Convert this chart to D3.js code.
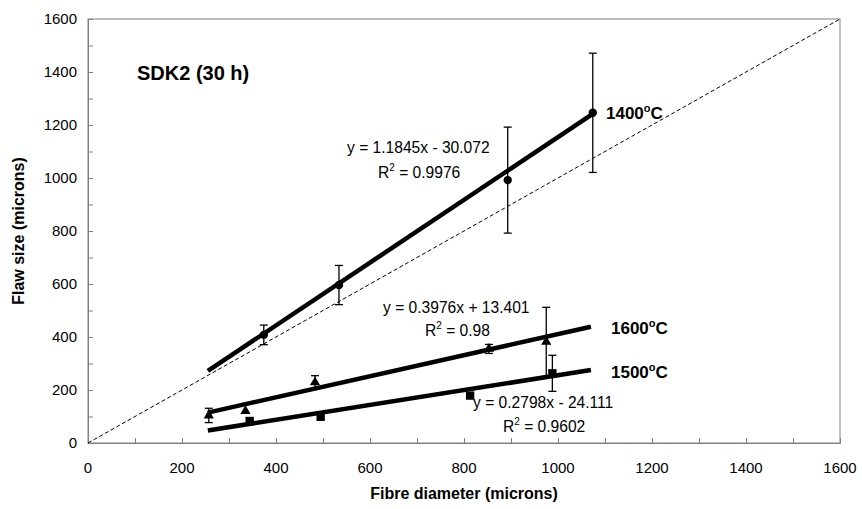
<!DOCTYPE html>
<html>
<head>
<meta charset="utf-8">
<script src="https://cdn.jsdelivr.net/npm/d3@7"></script>
<style>
  body { margin: 0; background: #fff; }
  svg { font-family: "Liberation Sans", Arial, sans-serif; }
</style>
</head>
<body>
<div id="chart"></div>
<script>
// data (fibre diameter vs flaw size, microns)
const xTicks = [0, 200, 400, 600, 800, 1000, 1200, 1400, 1600];
const yTicks = [0, 200, 400, 600, 800, 1000, 1200, 1400, 1600];

const d1400 = [374, 534, 893, 1074];
const f1400 = [408, 596, 992, 1246];
const e1400 = [37, 74, 200, 225];

const d1500 = [344, 495, 813, 988];
const f1500 = [83, 99, 179, 263];
const e1500 = [0, 0, 0, 68];

const d1600 = [257, 335, 483, 853, 975];
const f1600 = [104, 121, 229, 355, 382];
const e1600 = [27, 0, 25, 17, 130];

const fitRange = [255, 1070];
const slopes = [1.1845, 0.2798, 0.3976];
const intercepts = [-30.072, -24.111, 13.401];

const width = 862, height = 509;
const margin = { top: 19, right: 22, bottom: 66, left: 88 };
const w = width - margin.left - margin.right;
const h = height - margin.top - margin.bottom;

const svg = d3
  .select("#chart")
  .append("svg")
  .attr("width", width)
  .attr("height", height);

const g = svg.append("g").attr("transform", `translate(${margin.left},${margin.top})`);

const x = d3.scaleLinear().domain([0, 1600]).range([0, w]);
const y = d3.scaleLinear().domain([0, 1600]).range([h, 0]);

// frame
g.append("rect")
  .attr("width", w)
  .attr("height", h)
  .attr("fill", "none")
  .attr("stroke", "#808080")
  .attr("stroke-width", 1);

// inside ticks every 100
const minor = d3.range(0, 1601, 100);
g.append("g")
  .attr("transform", `translate(0,${h})`)
  .call(d3.axisBottom(x).tickValues(minor).tickSize(-5).tickFormat(""))
  .call((a) => a.select(".domain").attr("stroke", "#808080"))
  .call((a) => a.selectAll("line").attr("stroke", "#808080"));
g.append("g")
  .call(d3.axisLeft(y).tickValues(minor).tickSize(-5).tickFormat(""))
  .call((a) => a.select(".domain").attr("stroke", "#808080"))
  .call((a) => a.selectAll("line").attr("stroke", "#808080"));

// tick labels
g.selectAll(".xl")
  .data(xTicks)
  .join("text")
  .attr("x", (d) => x(d))
  .attr("y", h + 30)
  .attr("text-anchor", "middle")
  .style("font-size", "15px")
  .text((d) => d);
g.selectAll(".yl")
  .data(yTicks)
  .join("text")
  .attr("x", -11)
  .attr("y", (d) => y(d))
  .attr("dy", "0.36em")
  .attr("text-anchor", "end")
  .style("font-size", "15px")
  .text((d) => d);

// y = x reference
g.append("line")
  .attr("x1", x(0))
  .attr("y1", y(0))
  .attr("x2", x(1600))
  .attr("y2", y(1600))
  .attr("stroke", "#000")
  .attr("stroke-width", 1)
  .attr("stroke-dasharray", "4,2.5");

// fit lines
slopes.forEach((m, i) => {
  g.append("line")
    .attr("x1", x(fitRange[0]))
    .attr("y1", y(m * fitRange[0] + intercepts[i]))
    .attr("x2", x(fitRange[1]))
    .attr("y2", y(m * fitRange[1] + intercepts[i]))
    .attr("stroke", "#000")
    .attr("stroke-width", 4.5);
});

function errorBars(xs, ys, es) {
  const pts = xs.map((v, i) => ({ x: v, y: ys[i], e: es[i] })).filter((d) => d.e > 0);
  const eg = g.append("g").attr("stroke", "#000").attr("stroke-width", 1.3);
  eg.selectAll("line.v")
    .data(pts)
    .join("line")
    .attr("x1", (d) => x(d.x))
    .attr("x2", (d) => x(d.x))
    .attr("y1", (d) => y(d.y - d.e))
    .attr("y2", (d) => y(d.y + d.e));
  [1, -1].forEach((s) => {
    eg.selectAll(null)
      .data(pts)
      .join("line")
      .attr("x1", (d) => x(d.x) - 4)
      .attr("x2", (d) => x(d.x) + 4)
      .attr("y1", (d) => y(d.y + s * d.e))
      .attr("y2", (d) => y(d.y + s * d.e));
  });
}
errorBars(d1400, f1400, e1400);
errorBars(d1500, f1500, e1500);
errorBars(d1600, f1600, e1600);

// markers
g.selectAll(".c")
  .data(d1400.map((v, i) => [v, f1400[i]]))
  .join("circle")
  .attr("cx", (d) => x(d[0]))
  .attr("cy", (d) => y(d[1]))
  .attr("r", 4.2)
  .attr("fill", "#000");
g.selectAll(".s")
  .data(d1500.map((v, i) => [v, f1500[i]]))
  .join("path")
  .attr("transform", (d) => `translate(${x(d[0])},${y(d[1])})`)
  .attr("d", d3.symbol(d3.symbolSquare, 70))
  .attr("fill", "#000");
g.selectAll(".t")
  .data(d1600.map((v, i) => [v, f1600[i]]))
  .join("path")
  .attr("transform", (d) => `translate(${x(d[0])},${y(d[1])})`)
  .attr("d", d3.symbol(d3.symbolTriangle, 45))
  .attr("fill", "#000");

// annotations (pixel positions); [text, isSuperscript]
const note = (px, py, size, weight, parts) => {
  const t = svg.append("text")
    .attr("x", px)
    .attr("y", py)
    .style("font-size", size + "px")
    .style("font-weight", weight);
  const lift = Math.round(size * 0.42);
  let up = false;
  parts.forEach(([txt, sup]) => {
    const sp = t.append("tspan").text(txt);
    if (sup) {
      sp.attr("dy", -lift).style("font-size", Math.round(size * 0.65) + "px");
      up = true;
    } else if (up) {
      sp.attr("dy", lift);
      up = false;
    }
  });
  return t;
};

note(137, 80, 20, "bold", [["SDK2 (30 h)"]]);
note(347, 153, 15.6, "normal", [["y = 1.1845x - 30.072"]]);
note(378, 178, 15.6, "normal", [["R"], ["2", true], [" = 0.9976"]]);
note(383, 313, 15.6, "normal", [["y = 0.3976x + 13.401"]]);
note(425, 336, 15.6, "normal", [["R"], ["2", true], [" = 0.98"]]);
note(473, 408, 15.6, "normal", [["y = 0.2798x - 24.111"]]);
note(503, 432, 15.6, "normal", [["R"], ["2", true], [" = 0.9602"]]);
note(606, 119, 17, "bold", [["1400"], ["o", true], ["C"]]);
note(611, 334, 17, "bold", [["1600"], ["o", true], ["C"]]);
note(611, 378, 17, "bold", [["1500"], ["o", true], ["C"]]);

// axis titles
svg.append("text")
  .attr("x", margin.left + w / 2)
  .attr("y", 499)
  .attr("text-anchor", "middle")
  .style("font-size", "16px")
  .style("font-weight", "bold")
  .text("Fibre diameter (microns)");
svg.append("text")
  .attr("transform", `translate(24,${margin.top + h / 2}) rotate(-90)`)
  .attr("text-anchor", "middle")
  .style("font-size", "16px")
  .style("font-weight", "bold")
  .text("Flaw size (microns)");
</script>
</body>
</html>
